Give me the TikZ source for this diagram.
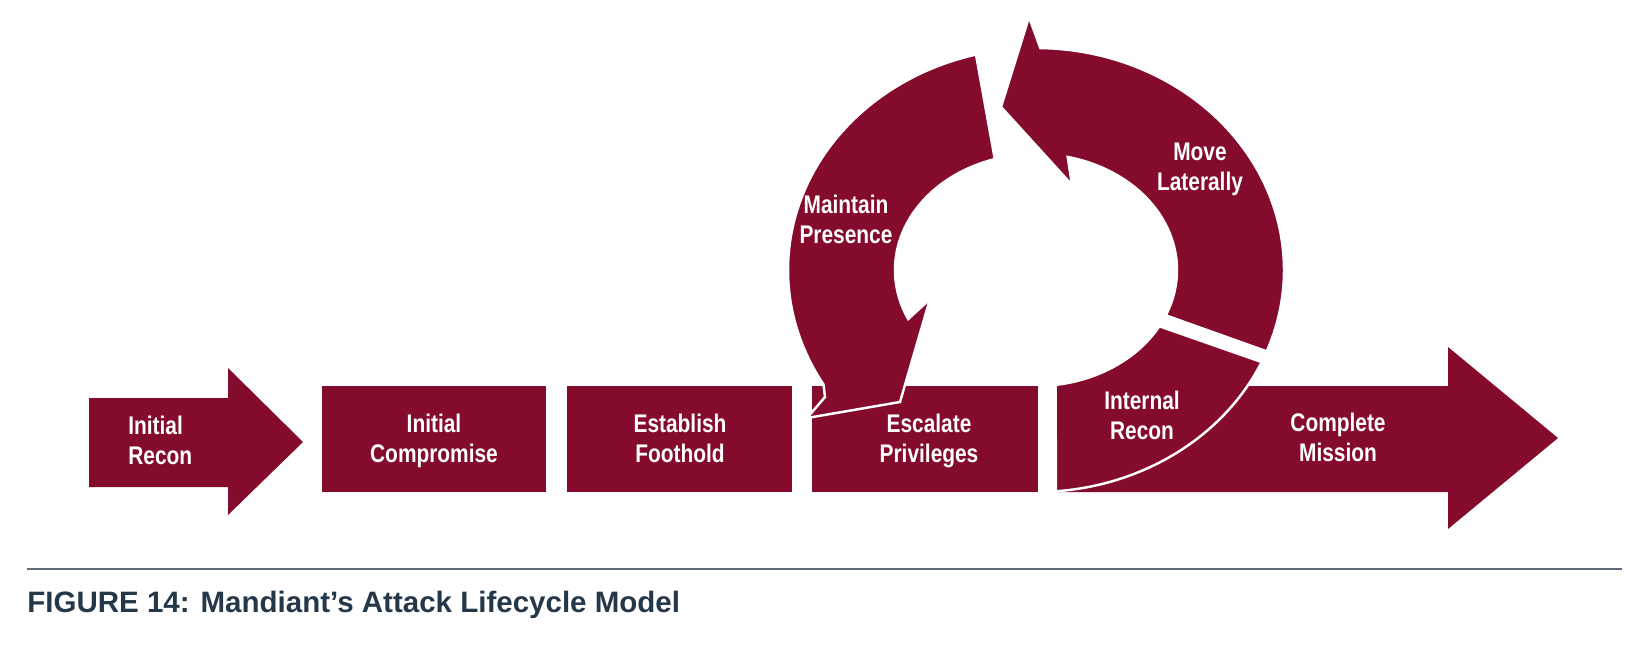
\documentclass[tikz,border=0pt]{standalone}
\usepackage{fontspec}
\setmainfont{Liberation Sans}
\newfontfamily\stagefont{Liberation Sans}[FakeStretch=0.82]
\usetikzlibrary{calc}
\definecolor{mdred}{HTML}{850B2D}
\definecolor{capnavy}{HTML}{25384A}
\definecolor{rulegray}{HTML}{5B6B7A}

\begin{document}
\begin{tikzpicture}[x=0.02cm, y=-0.02cm,
  stagelabel/.style={text=white, font=\stagefont\bfseries\fontsize{14.5}{17}\selectfont, align=center, inner sep=0pt},
  phase/.style={fill=mdred},
  loopphase/.style={fill=mdred, draw=white, line width=1.4pt, line join=miter}]

\useasboundingbox (0,0) rectangle (1636,660);

% =====================================================
% Straight stages along the bottom row
% =====================================================
% Initial Recon (arrow)
\fill[phase] (89,398) -- (228,398) -- (228,368) -- (303,442) -- (228,515) -- (228,487) -- (89,487) -- cycle;
\node[stagelabel, align=left, anchor=west] (recon) at (128,440) {Initial\\Recon};

% Initial Compromise
\fill[phase] (322,386) rectangle (546,492);
\node[stagelabel] (compromise) at (434,441) {Initial\\Compromise};

% Establish Foothold
\fill[phase] (567,386) rectangle (792,492);
\node[stagelabel] (foothold) at (680,438) {Establish\\Foothold};

% Escalate Privileges
\fill[phase] (812,386) rectangle (1038,492);
\node[stagelabel] (escalate) at (929,441) {Escalate\\Privileges};

% Complete Mission (arrow, partly under the loop)
\fill[phase] (1056,386) -- (1448,386) -- (1448,347) -- (1558,438) -- (1448,529) -- (1448,492) -- (1056,492) -- cycle;
\node[stagelabel] (mission) at (1338,437) {Complete\\Mission};

% =====================================================
% The loop: Internal Recon, Move Laterally, Maintain Presence
% =====================================================
\coordinate (ringc) at (1036,270);

% Internal Recon
\filldraw[loopphase] ($(ringc)+(82:141 and 116)$)
  arc[start angle=82, end angle=29, x radius=141, y radius=116]
  -- ($(ringc)+(24.5:248 and 222)$)
  arc[start angle=24.5, end angle=85.4, x radius=248, y radius=222] -- cycle;
\node[stagelabel] (intrecon) at (1142,415) {Internal\\Recon};

% Move Laterally
\filldraw[loopphase] ($(ringc)+(21.5:248 and 222)$)
  arc[start angle=21.5, end angle=-89, x radius=248, y radius=222]
  -- (1029,17) -- (1001,107) -- (1072,185)
  -- ($(ringc)+(-77:141 and 116)$)
  arc[start angle=-77, end angle=23, x radius=141, y radius=116] -- cycle;
\node[stagelabel] (lateral) at (1200,169) {Move\\Laterally};

% Maintain Presence
\filldraw[loopphase] ($(ringc)+(-104:248 and 222)$)
  arc[start angle=-104, end angle=-211, x radius=248, y radius=222]
  -- (825,397) -- (807,418) -- (900,402) -- (930,299)
  -- ($(ringc)+(-205:141 and 116)$)
  arc[start angle=-205, end angle=-107, x radius=141, y radius=116] -- cycle;
\node[stagelabel] (presence) at (846,219) {Maintain\\Presence};

% =====================================================
% Caption
% =====================================================
\draw[rulegray, line width=1.2pt] (27,569) -- (1622,569);
\node[anchor=base west, inner sep=0pt, text=capnavy, font=\bfseries\fontsize{16.8}{20}\selectfont] (caption) at (27,612) {FIGURE 14: Mandiant’s Attack Lifecycle Model};

\end{tikzpicture}
\end{document}
